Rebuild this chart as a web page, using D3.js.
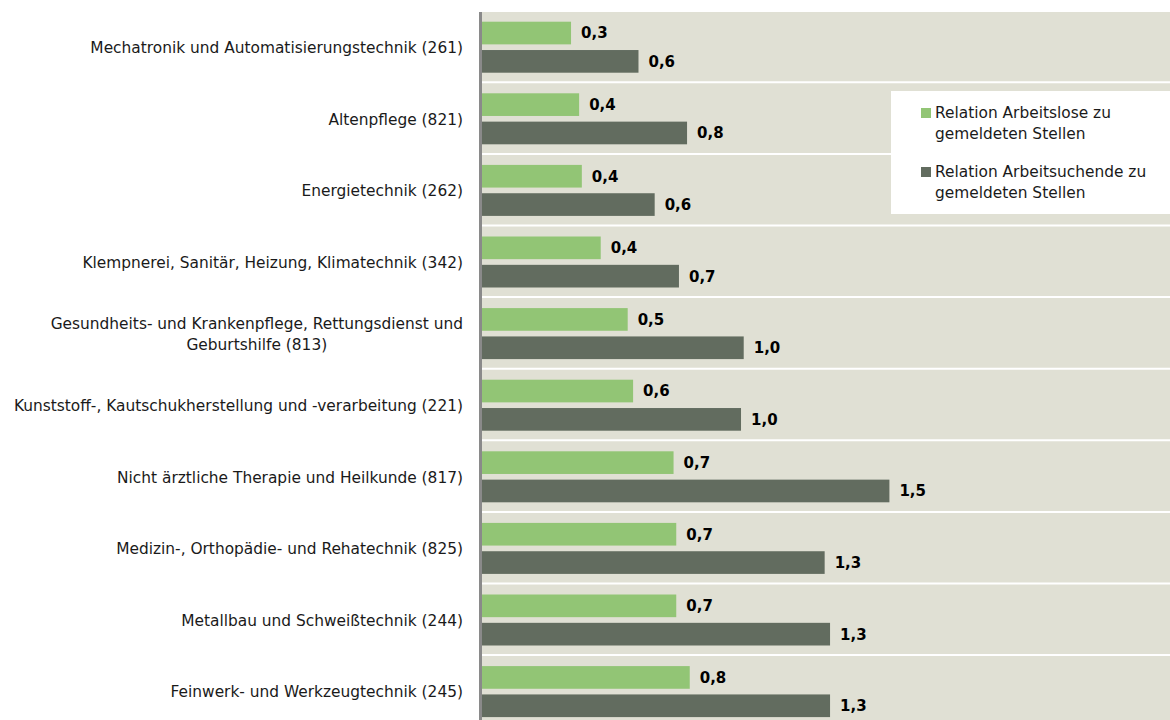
<!DOCTYPE html>
<html>
<head>
<meta charset="utf-8">
<script src="https://cdn.jsdelivr.net/npm/d3@7"></script>
<style>
  html, body { margin: 0; padding: 0; background: #ffffff; }
  svg { display: block; }
</style>
</head>
<body>
<svg id="chart" width="1170" height="720"></svg>
<script>
// ---- data ----
const categories = [
  "Mechatronik und Automatisierungstechnik (261)",
  "Altenpflege (821)",
  "Energietechnik (262)",
  "Klempnerei, Sanitär, Heizung, Klimatechnik (342)",
  "Gesundheits- und Krankenpflege, Rettungsdienst und Geburtshilfe (813)",
  "Kunststoff-, Kautschukherstellung und -verarbeitung (221)",
  "Nicht ärztliche Therapie und Heilkunde (817)",
  "Medizin-, Orthopädie- und Rehatechnik (825)",
  "Metallbau und Schweißtechnik (244)",
  "Feinwerk- und Werkzeugtechnik (245)"
];
const seriesNames = [
  "Relation Arbeitslose zu gemeldeten Stellen",
  "Relation Arbeitsuchende zu gemeldeten Stellen"
];
const arbeitslose   = [0.33, 0.36, 0.37, 0.44, 0.54, 0.56, 0.71, 0.72, 0.72, 0.77];
const arbeitsuchende = [0.58, 0.76, 0.64, 0.73, 0.97, 0.96, 1.51, 1.27, 1.29, 1.29];
const seriesValues = [arbeitslose, arbeitsuchende];
const legendLines = [
  ["Relation Arbeitslose zu", "gemeldeten Stellen"],
  ["Relation Arbeitsuchende zu", "gemeldeten Stellen"]
];
const colors = ["#92c575", "#626c5f"];
const xMax = 2.55;

// ---- layout ----
const svg = d3.select("#chart");
const W = 1170, H = 720;
const plotLeft = 482, plotTop = 12;
const groupTop = 10.7, groupStep = 71.6;

const x = d3.scaleLinear().domain([0, xMax]).range([plotLeft, W]);
const y0 = d3.scaleBand().domain(categories)
  .range([groupTop, groupTop + groupStep * categories.length]).padding(0);
const y1 = d3.scaleBand().domain(seriesNames).range([11, 62]).paddingInner(0.2);

const fmt = v => d3.format(".1f")(v).replace(".", ",");

// background
svg.append("rect").attr("x", plotLeft).attr("y", plotTop)
  .attr("width", W - plotLeft).attr("height", H - plotTop).attr("fill", "#e0e0d4");

// separators
svg.append("g").selectAll("line").data(categories.slice(1)).join("line")
  .attr("x1", plotLeft).attr("x2", W)
  .attr("y1", d => y0(d)).attr("y2", d => y0(d))
  .attr("stroke", "#ffffff").attr("stroke-width", 2);

// bars
const groups = svg.append("g").selectAll("g").data(categories).join("g")
  .attr("transform", d => `translate(0,${y0(d)})`);

seriesNames.forEach((s, si) => {
  groups.append("rect")
    .attr("x", x(0))
    .attr("y", y1(s))
    .attr("width", (d, i) => x(seriesValues[si][i]) - x(0))
    .attr("height", y1.bandwidth())
    .attr("fill", colors[si]);
  groups.append("text")
    .attr("x", (d, i) => x(seriesValues[si][i]) + 10)
    .attr("y", y1(s) + y1.bandwidth() / 2)
    .attr("dy", "0.36em")
    .attr("font-family", "DejaVu Sans, Verdana, sans-serif")
    .attr("font-weight", "bold")
    .attr("font-size", 15)
    .attr("fill", "#000")
    .text((d, i) => fmt(seriesValues[si][i]));
});

// axis line
svg.append("line").attr("x1", plotLeft - 1.5).attr("x2", plotLeft - 1.5)
  .attr("y1", plotTop).attr("y2", H)
  .attr("stroke", "#8a8a8a").attr("stroke-width", 3);

// category labels with wrapping
const labelFont = "DejaVu Sans, Verdana, sans-serif";
const labelSize = 15.4;
const labelRight = 463;
const maxLabelW = 470;
const labels = svg.append("g");
categories.forEach(c => {
  const t = labels.append("text")
    .attr("font-family", labelFont).attr("font-size", labelSize)
    .attr("fill", "#1a1a1a");
  const words = c.split(" ");
  const lines = [];
  let cur = [];
  const probe = t.append("tspan");
  words.forEach(w => {
    const test = cur.concat([w]).join(" ");
    probe.text(test);
    if (probe.node().getComputedTextLength() > maxLabelW && cur.length) {
      lines.push(cur.join(" "));
      cur = [w];
    } else cur.push(w);
  });
  lines.push(cur.join(" "));
  probe.remove();
  const widths = lines.map(l => { const p = t.append("tspan").text(l); const w = p.node().getComputedTextLength(); p.remove(); return w; });
  const blockW = d3.max(widths);
  const cx = labelRight - blockW / 2;
  const cy = y0(c) + groupStep / 2 + 1;
  const lh = 21;
  lines.forEach((l, i) => {
    t.append("tspan")
      .attr("x", lines.length > 1 ? cx : labelRight)
      .attr("text-anchor", lines.length > 1 ? "middle" : "end")
      .attr("y", cy + (i - (lines.length - 1) / 2) * lh)
      .attr("dy", "0.36em")
      .text(l);
  });
});

// legend
const lg = svg.append("g");
lg.append("rect").attr("x", 891).attr("y", 91).attr("width", W - 891).attr("height", 123)
  .attr("fill", "#ffffff");
seriesNames.forEach((s, i) => {
  const by = 118 + i * 59;
  lg.append("rect").attr("x", 921).attr("y", by - 10).attr("width", 10).attr("height", 10)
    .attr("fill", colors[i]);
  const t = lg.append("text").attr("font-family", labelFont).attr("font-size", 15.4).attr("fill", "#1a1a1a");
  legendLines[i].forEach((l, j) => {
    t.append("tspan").attr("x", 935).attr("y", by + j * 21).text(l);
  });
});
</script>
</body>
</html>
